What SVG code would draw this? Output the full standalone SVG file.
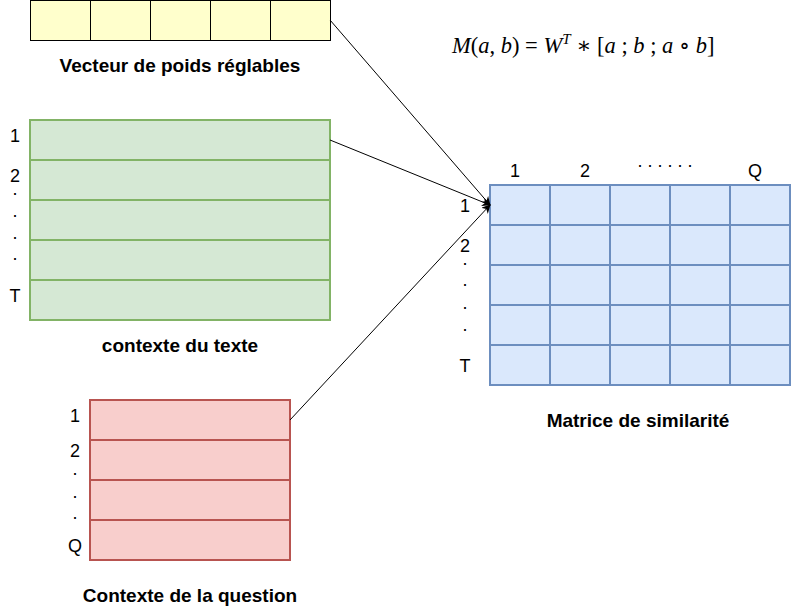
<svg xmlns="http://www.w3.org/2000/svg" width="792" height="611" viewBox="0 0 792 611">
<style>
.lbl{font-family:"Liberation Sans",Arial,sans-serif;font-size:19px;font-weight:bold;fill:#000;text-anchor:middle}
.num{font-family:"Liberation Sans",Arial,sans-serif;font-size:18px;fill:#000;text-anchor:middle}
.y{fill:#ffffcc;stroke:#000;stroke-width:1}
.g{fill:#d5e8d4;stroke:#82b366;stroke-width:2}
.r{fill:#f8cecc;stroke:#b85450;stroke-width:2}
.b{fill:#dae8fc;stroke:#6c8ebf;stroke-width:2}
.m{font-family:"Liberation Serif","DejaVu Serif",serif;font-size:22.5px;fill:#000}
.conn{stroke:#000;stroke-width:1;fill:none;marker-end:url(#ah)}
</style>
<defs>
<marker id="ah" viewBox="0 0 10 10" refX="9" refY="5" markerWidth="9" markerHeight="9" markerUnits="userSpaceOnUse" orient="auto">
<path d="M0,0 L10,5 L0,10 L3,5 Z" fill="#000"/>
</marker>
</defs>
<rect width="792" height="611" fill="#fff"/>
<g id="vecteur">
<rect class="y" x="30.5" y="0.5" width="60" height="40"/>
<rect class="y" x="90.5" y="0.5" width="60" height="40"/>
<rect class="y" x="150.5" y="0.5" width="60" height="40"/>
<rect class="y" x="210.5" y="0.5" width="60" height="40"/>
<rect class="y" x="270.5" y="0.5" width="60" height="40"/>
<text class="lbl" x="180" y="72">Vecteur de poids réglables</text>
</g>
<g id="formule">
<text class="m" x="452" y="53"><tspan font-style="italic">M</tspan>(<tspan font-style="italic">a</tspan>, <tspan font-style="italic">b</tspan>) = <tspan font-style="italic">W</tspan><tspan font-style="italic" font-size="15" dy="-9">T</tspan><tspan dy="9"> ∗ [</tspan><tspan font-style="italic">a</tspan> ; <tspan font-style="italic">b</tspan> ; <tspan font-style="italic">a</tspan> ∘ <tspan font-style="italic">b</tspan>]</text>
</g>
<g id="texte">
<rect class="g" x="30" y="120" width="300" height="40"/>
<rect class="g" x="30" y="160" width="300" height="40"/>
<rect class="g" x="30" y="200" width="300" height="40"/>
<rect class="g" x="30" y="240" width="300" height="40"/>
<rect class="g" x="30" y="280" width="300" height="40"/>
<text class="num" x="15" y="142">1</text>
<text class="num" x="15" y="182">2<tspan x="15" dy="13">.</tspan><tspan x="15" dy="22">.</tspan><tspan x="15" dy="22">.</tspan><tspan x="15" dy="21">.</tspan></text>
<text class="num" x="15" y="302">T</text>
<text class="lbl" x="180" y="352">contexte du texte</text>
</g>
<g id="question">
<rect class="r" x="90" y="400" width="200" height="40"/>
<rect class="r" x="90" y="440" width="200" height="40"/>
<rect class="r" x="90" y="480" width="200" height="40"/>
<rect class="r" x="90" y="520" width="200" height="40"/>
<text class="num" x="75" y="422">1</text>
<text class="num" x="75" y="457">2<tspan x="75" dy="18">.</tspan><tspan x="75" dy="23">.</tspan><tspan x="75" dy="21">.</tspan></text>
<text class="num" x="75" y="552">Q</text>
<text class="lbl" x="190" y="602">Contexte de la question</text>
</g>
<g id="matrice">
<g>
<rect class="b" x="490" y="185" width="60" height="40"/><rect class="b" x="550" y="185" width="60" height="40"/><rect class="b" x="610" y="185" width="60" height="40"/><rect class="b" x="670" y="185" width="60" height="40"/><rect class="b" x="730" y="185" width="60" height="40"/>
<rect class="b" x="490" y="225" width="60" height="40"/><rect class="b" x="550" y="225" width="60" height="40"/><rect class="b" x="610" y="225" width="60" height="40"/><rect class="b" x="670" y="225" width="60" height="40"/><rect class="b" x="730" y="225" width="60" height="40"/>
<rect class="b" x="490" y="265" width="60" height="40"/><rect class="b" x="550" y="265" width="60" height="40"/><rect class="b" x="610" y="265" width="60" height="40"/><rect class="b" x="670" y="265" width="60" height="40"/><rect class="b" x="730" y="265" width="60" height="40"/>
<rect class="b" x="490" y="305" width="60" height="40"/><rect class="b" x="550" y="305" width="60" height="40"/><rect class="b" x="610" y="305" width="60" height="40"/><rect class="b" x="670" y="305" width="60" height="40"/><rect class="b" x="730" y="305" width="60" height="40"/>
<rect class="b" x="490" y="345" width="60" height="40"/><rect class="b" x="550" y="345" width="60" height="40"/><rect class="b" x="610" y="345" width="60" height="40"/><rect class="b" x="670" y="345" width="60" height="40"/><rect class="b" x="730" y="345" width="60" height="40"/>
</g>
<text class="num" x="515" y="177">1</text>
<text class="num" x="585" y="177">2</text>
<text class="num" x="665" y="167">. . . . . .</text>
<text class="num" x="755" y="177">Q</text>
<text class="num" x="465" y="212">1</text>
<text class="num" x="465" y="252">2<tspan x="465" dy="13">.</tspan><tspan x="465" dy="21">.</tspan><tspan x="465" dy="23">.</tspan><tspan x="465" dy="22">.</tspan></text>
<text class="num" x="465" y="372">T</text>
<text class="lbl" x="638" y="427">Matrice de similarité</text>
</g>
<g id="connecteurs">
<line class="conn" x1="330" y1="20" x2="490" y2="205"/>
<line class="conn" x1="330" y1="140" x2="490" y2="205"/>
<line class="conn" x1="290" y1="420" x2="490" y2="205"/>
</g>
</svg>
